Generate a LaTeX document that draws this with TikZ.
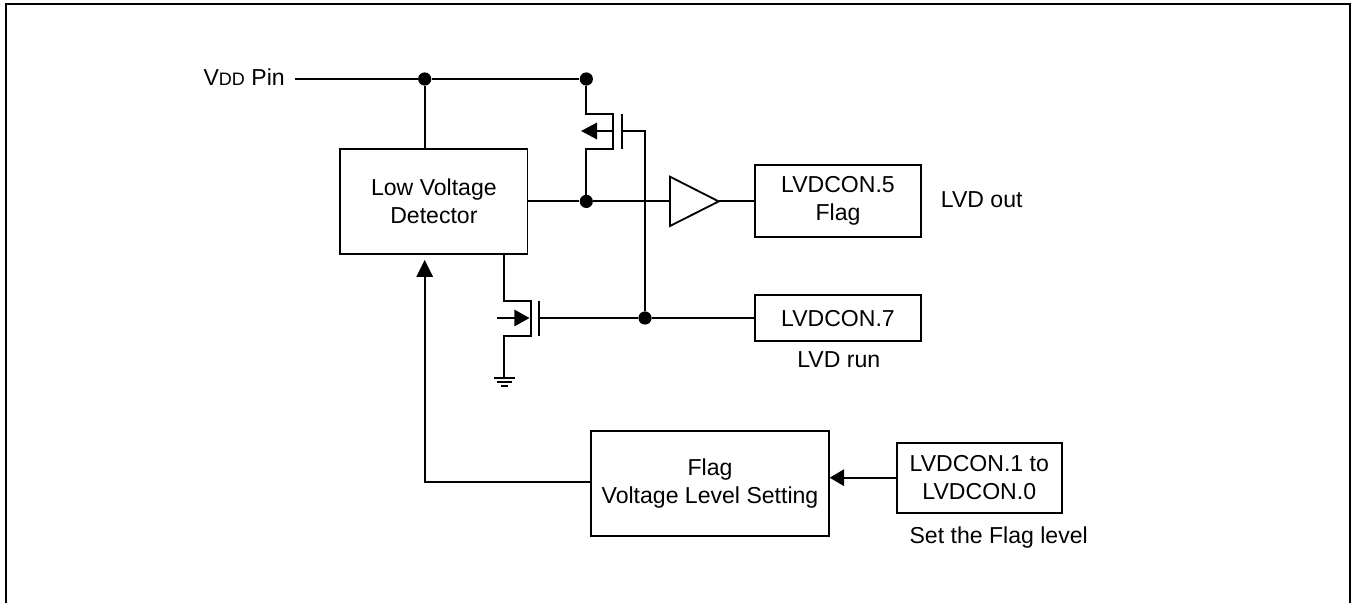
\documentclass[tikz,border=0pt]{standalone}
\usepackage{fontspec}
\setmainfont{Liberation Sans}
\usetikzlibrary{arrows.meta}
\tikzset{
  wire/.style={draw=black, line width=1.3pt},
  frameline/.style={draw=black, line width=1.45pt},
  sigarrow/.style={wire, -{Triangle[length=4.2mm,width=4.1mm]}},
  block/.style={draw=black, line width=1.3pt, align=center, inner sep=0pt, font=\fontsize{16.4}{19.9}\selectfont},
  caption/.style={anchor=base, inner sep=0pt, font=\fontsize{16.4}{19.9}\selectfont},
  junction/.style={circle, fill=black, minimum size=3.3mm, inner sep=0pt}
}
\begin{document}
\begin{tikzpicture}[x=0.025cm,y=-0.025cm]
  \useasboundingbox (0,0) rectangle (1356,603);
  \draw[frameline] (6,603) -- (6,4) -- (1350,4) -- (1350,603);

  % blocks
  \node[block, minimum width=4.675cm, minimum height=2.62cm] (detector) at (433.9,201.7) {Low Voltage\\Detector};
  \node[block, minimum width=4.135cm, minimum height=1.81cm] (flagbox) at (838,201.2) {LVDCON.5\\Flag};
  \node[block, minimum width=4.135cm, minimum height=1.16cm] (runbox) at (838,318.2) {LVDCON.7};
  \node[block, minimum width=5.935cm, minimum height=2.62cm] (levelbox) at (710,483.3) {Flag\\Voltage Level Setting};
  \node[block, minimum width=4.12cm, minimum height=1.75cm] (selbox) at (979.3,477.7) {LVDCON.1 to\\LVDCON.0};

  % labels
  \node[caption, anchor=base east] (vddpin) at (285,85.7) {V{\fontsize{12.8}{15}\selectfont DD} Pin};
  \node[caption] (lvdout) at (981.7,207.3) {LVD out};
  \node[caption] (lvdrun) at (838.8,367.7) {LVD run};
  \node[caption] (flaglevel) at (998.7,543.3) {Set the Flag level};

  % junctions
  \node[junction] (vddleft) at (424.7,79) {};
  \node[junction] (vddright) at (586.3,79) {};
  \node[junction] (outjoin) at (586.3,201.4) {};
  \node[junction] (gatejoin) at (645,318) {};

  % supply and output lines
  \coordinate (vddstart) at (295,79);
  \coordinate (bufin) at (670,201.4);
  \coordinate (bufout) at (718.7,201.4);
  \draw[wire] (vddstart) -- (vddleft) -- (vddright);
  \draw[wire] (vddleft) -- (vddleft |- detector.north);
  \draw[wire] (detector.east |- outjoin) -- (outjoin) -- (bufin);
  \draw[wire] (bufin) -- (670,176.7) -- (bufout) -- (670,226) -- cycle;
  \draw[wire] (bufout) -- (flagbox.west |- bufout);

  % upper transistor
  \coordinate (ptop) at (613,113.7);
  \coordinate (pbot) at (613,149);
  \coordinate (pmid) at (613,131);
  \coordinate (ptip) at (581,131);
  \coordinate (pgate) at (622,131);
  \coordinate (pturn) at (645,131);
  \draw[wire] (vddright) -- (vddright |- ptop) -- (ptop) -- (pbot) -- (vddright |- pbot) -- (outjoin);
  \draw[wire] (622,113.7) -- (622,149);
  \draw[sigarrow, -{Triangle[length=4mm,width=4.1mm]}] (pmid) -- (ptip);
  \draw[wire] (pgate) -- (pturn) -- (gatejoin);

  % lower transistor
  \coordinate (nstub) at (504,254);
  \coordinate (ntop) at (530.7,300.7);
  \coordinate (nbot) at (530.7,335.7);
  \coordinate (nfree) at (497.3,318);
  \coordinate (ntip) at (529.5,318);
  \coordinate (ngate) at (539.3,318);
  \coordinate (gndtop) at (504,378);
  \draw[wire] (nstub) -- (nstub |- ntop) -- (ntop) -- (nbot) -- (nstub |- nbot) -- (gndtop);
  \draw[wire] (539.3,300.7) -- (539.3,335.7);
  \draw[sigarrow, -{Triangle[length=3.8mm,width=4.1mm]}] (nfree) -- (ntip);
  \draw[wire] (ngate) -- (gatejoin) -- (runbox.west |- gatejoin);

  % ground
  \draw[wire] (493.5,378) -- (515,378);
  \draw[wire] (497,382) -- (511.5,382);
  \draw[wire] (500.5,385.7) -- (508,385.7);

  % level setting
  \coordinate (feedturn) at (424.7,482.3);
  \coordinate (feedtip) at (424.7,260);
  \draw[sigarrow] (levelbox.west |- feedturn) -- (feedturn) -- (feedtip);
  \draw[sigarrow, -{Triangle[length=3.6mm,width=4.1mm]}] (selbox.west) -- (levelbox.east |- selbox.west);
\end{tikzpicture}
\end{document}
